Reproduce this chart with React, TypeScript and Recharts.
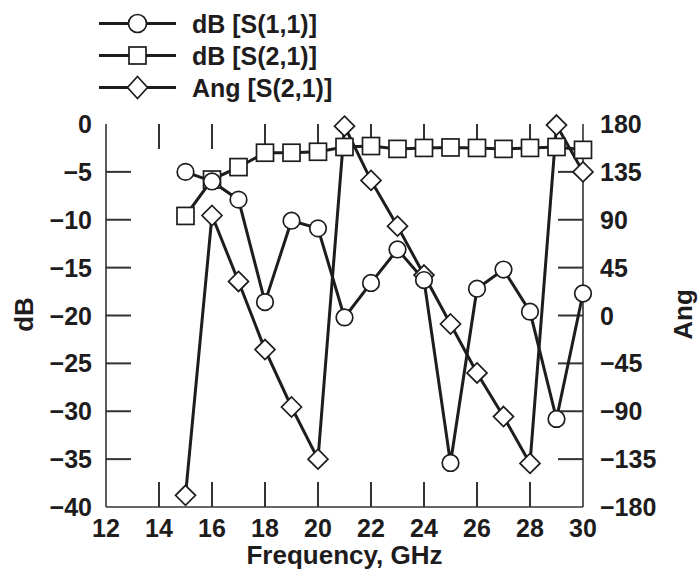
import React from 'react';
import { ComposedChart, Line, XAxis, YAxis, ReferenceLine } from 'recharts';

// ---- data ----
const freqs = [15, 16, 17, 18, 19, 20, 21, 22, 23, 24, 25, 26, 27, 28, 29, 30];
const s11Db = [-5.0, -6.0, -7.9, -18.6, -10.1, -10.9, -20.2, -16.6, -13.1, -16.3, -35.4, -17.2, -15.2, -19.6, -30.8, -17.7];
const s21Db = [-9.6, -5.8, -4.5, -3.0, -3.0, -2.9, -2.4, -2.3, -2.6, -2.5, -2.45, -2.5, -2.6, -2.5, -2.4, -2.7];
const s21Ang = [-169, 94, 32, -32, -86, -135, 178, 127, 84, 38, -8, -54, -95, -139, 179, 135];

const xTicks = [12, 14, 16, 18, 20, 22, 24, 26, 28, 30];
const dbTicks = [0, -5, -10, -15, -20, -25, -30, -35, -40];
const angTicks = [180, 135, 90, 45, 0, -45, -90, -135, -180];

const seriesNames = ['dB [S(1,1)]', 'dB [S(2,1)]', 'Ang [S(2,1)]'];
const xTitle = 'Frequency, GHz';
const dbTitle = 'dB';
const angTitle = 'Ang';

const data = freqs.map((f, i) => ({ f, s11: s11Db[i], s21: s21Db[i], ang: s21Ang[i] }));

// ---- layout / styles ----
const W = 699;
const H = 573;
const M_TOP = 124;
const Y_LEFT_W = 106;
const Y_RIGHT_W = 116;
const X_AXIS_H = 66;
const PLOT_W = W - Y_LEFT_W - Y_RIGHT_W;
const PLOT_H = H - M_TOP - X_AXIS_H;

const INK = '#1e1c1c';
const FRAME = '#333333';
const FONT = '"Liberation Sans", Arial, Helvetica, sans-serif';
const FS = 25;
const TICK_LEN = 25;
const LINE_W = 3;

const xMin = xTicks[0];
const xMax = xTicks[xTicks.length - 1];
const dbMin = dbTicks[dbTicks.length - 1];
const dbMax = dbTicks[0];
const angMin = angTicks[angTicks.length - 1];
const angMax = angTicks[0];
// inward tick length converted into each axis's data units
const tickX = (TICK_LEN * (xMax - xMin)) / PLOT_W;
const tickDb = (TICK_LEN * (dbMax - dbMin)) / PLOT_H;

const innerX = xTicks.slice(1, -1);
const innerDb = dbTicks.slice(1, -1);
const innerAng = angTicks.slice(1, -1);

const fmt = (v: number) => String(v).replace('-', '\u2212');

const CircleMark = ({ cx, cy, r = 8.3 }: any) => (
  <circle cx={cx} cy={cy} r={r} fill="#fff" stroke={INK} strokeWidth={1.7} />
);
const SquareMark = ({ cx, cy, s = 17 }: any) => (
  <rect x={cx - s / 2} y={cy - s / 2} width={s} height={s} fill="#fff" stroke={INK} strokeWidth={1.7} />
);
const DiamondMark = ({ cx, cy, w = 10, h = 10 }: any) => (
  <polygon
    points={`${cx},${cy - h} ${cx + w},${cy} ${cx},${cy + h} ${cx - w},${cy}`}
    fill="#fff"
    stroke={INK}
    strokeWidth={1.7}
  />
);

const mkDot = (Comp: any) => (p: any) => {
  if (p.cx == null || p.cy == null) return <g key={`n${p.index}`} />;
  return <Comp key={`d${p.index}`} cx={p.cx} cy={p.cy} />;
};

const textStyle = { fontFamily: FONT, fontSize: FS, fontWeight: 700, fill: INK } as const;

const BottomTick = (p: any) => (
  <text x={p.x} y={p.y + 30} textAnchor="middle" style={textStyle}>
    {fmt(p.payload.value)}
  </text>
);
const LeftTick = (p: any) => (
  <text x={p.x - 14} y={p.y + 9} textAnchor="end" style={textStyle}>
    {fmt(p.payload.value)}
  </text>
);
const RightTick = (p: any) => (
  <text x={p.x + 17} y={p.y + 9} textAnchor="start" style={textStyle}>
    {fmt(p.payload.value)}
  </text>
);

const VerticalTitle = ({ viewBox, text, dx }: any) => {
  if (!viewBox) return null;
  const cx = viewBox.x + dx;
  const cy = viewBox.y + viewBox.height / 2 - 1;
  return (
    <text
      x={cx}
      y={cy}
      transform={`rotate(-90, ${cx}, ${cy})`}
      textAnchor="middle"
      dominantBaseline="central"
      style={{ ...textStyle, fontSize: 26 }}
    >
      {text}
    </text>
  );
};

const LegendBox = () => {
  const rows = [
    { name: seriesNames[0], Mark: CircleMark, props: { r: 9 } },
    { name: seriesNames[1], Mark: SquareMark, props: { s: 17 } },
    { name: seriesNames[2], Mark: DiamondMark, props: { w: 10, h: 11 } },
  ];
  return (
    <svg width={W} height={110} style={{ position: 'absolute', left: 0, top: 0 }}>
      {rows.map((r, i) => {
        const cy = 23.5 + i * 32;
        return (
          <g key={r.name}>
            <line x1={99} y1={cy} x2={176} y2={cy} stroke={INK} strokeWidth={LINE_W} />
            <r.Mark cx={137.5} cy={cy} {...r.props} />
            <text x={192} y={cy + 9} style={textStyle}>
              {r.name}
            </text>
          </g>
        );
      })}
    </svg>
  );
};

const tickStroke = { stroke: FRAME, strokeWidth: 2 };

export default function App() {
  return (
    <div style={{ position: 'absolute', left: 0, top: 0, width: W, height: H, background: '#fff' }}>
      <ComposedChart width={W} height={H} data={data} margin={{ top: M_TOP, right: 0, bottom: 0, left: 0 }}>
        <XAxis
          xAxisId="bottom"
          dataKey="f"
          type="number"
          domain={[xMin, xMax]}
          ticks={xTicks}
          interval={0}
          height={X_AXIS_H}
          tickSize={0}
          tickMargin={0}
          tick={<BottomTick />}
          axisLine={{ stroke: FRAME, strokeWidth: 1.6 }}
          tickLine={false}
          label={{
            value: xTitle,
            position: 'insideBottom',
            offset: 9,
            style: { ...textStyle, fontSize: 26 },
          }}
        />
        <XAxis
          xAxisId="top"
          orientation="top"
          dataKey="f"
          type="number"
          domain={[xMin, xMax]}
          ticks={xTicks}
          height={0}
          tick={false}
          axisLine={{ stroke: FRAME, strokeWidth: 1.6 }}
          tickLine={false}
        />
        <YAxis
          yAxisId="db"
          orientation="left"
          type="number"
          domain={[dbMin, dbMax]}
          ticks={dbTicks}
          interval={0}
          width={Y_LEFT_W}
          tickSize={0}
          tickMargin={0}
          tick={<LeftTick />}
          axisLine={{ stroke: FRAME, strokeWidth: 1.6 }}
          tickLine={false}
          label={{ content: (p: any) => <VerticalTitle viewBox={p.viewBox} text={dbTitle} dx={24} /> }}
        />
        <YAxis
          yAxisId="ang"
          orientation="right"
          type="number"
          domain={[angMin, angMax]}
          ticks={angTicks}
          interval={0}
          width={Y_RIGHT_W}
          tickSize={0}
          tickMargin={0}
          tick={<RightTick />}
          axisLine={{ stroke: FRAME, strokeWidth: 1.6 }}
          tickLine={false}
          label={{ content: (p: any) => <VerticalTitle viewBox={p.viewBox} text={angTitle} dx={100} /> }}
        />

        {innerDb.map((v) => (
          <ReferenceLine
            key={`ld${v}`}
            xAxisId="bottom"
            yAxisId="db"
            segment={[{ x: xMin, y: v }, { x: xMin + tickX, y: v }]}
            {...tickStroke}
          />
        ))}
        {innerAng.map((v) => (
          <ReferenceLine
            key={`ra${v}`}
            xAxisId="bottom"
            yAxisId="ang"
            segment={[{ x: xMax - tickX, y: v }, { x: xMax, y: v }]}
            {...tickStroke}
          />
        ))}
        {innerX.map((v) => (
          <ReferenceLine
            key={`bx${v}`}
            xAxisId="bottom"
            yAxisId="db"
            segment={[{ x: v, y: dbMin }, { x: v, y: dbMin + tickDb }]}
            {...tickStroke}
          />
        ))}
        {innerX.map((v) => (
          <ReferenceLine
            key={`tx${v}`}
            xAxisId="bottom"
            yAxisId="db"
            segment={[{ x: v, y: dbMax }, { x: v, y: dbMax - tickDb }]}
            {...tickStroke}
          />
        ))}

        <Line
          xAxisId="bottom"
          yAxisId="ang"
          dataKey="ang"
          type="linear"
          stroke={INK}
          strokeWidth={LINE_W}
          dot={mkDot(DiamondMark)}
          activeDot={false}
          isAnimationActive={false}
        />
        <Line
          xAxisId="bottom"
          yAxisId="db"
          dataKey="s21"
          type="linear"
          stroke={INK}
          strokeWidth={LINE_W}
          dot={mkDot(SquareMark)}
          activeDot={false}
          isAnimationActive={false}
        />
        <Line
          xAxisId="bottom"
          yAxisId="db"
          dataKey="s11"
          type="linear"
          stroke={INK}
          strokeWidth={LINE_W}
          dot={mkDot(CircleMark)}
          activeDot={false}
          isAnimationActive={false}
        />
      </ComposedChart>
      <LegendBox />
    </div>
  );
}
